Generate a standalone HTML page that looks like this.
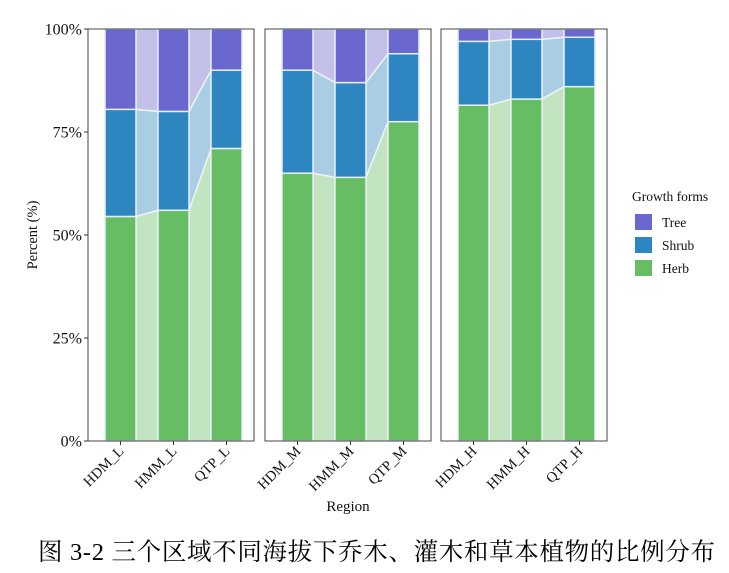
<!DOCTYPE html>
<html><head><meta charset="utf-8"><style>
html,body{margin:0;padding:0;background:#fff;}
svg text{font-family:"Liberation Serif","Noto Serif CJK SC",serif;}
</style></head><body>
<svg id="s" width="729" height="568" xmlns="http://www.w3.org/2000/svg">
</svg>
<script>
const s=document.getElementById('s');
let h='';
const Y=p=>441-4.12*p;
const panels=[
 {x:88,names:['HDM_L','HMM_L','QTP_L'],herb:[54.5,56,71],shrub:[80.5,80,90]},
 {x:265,names:['HDM_M','HMM_M','QTP_M'],herb:[65,64,77.5],shrub:[90,87,94]},
 {x:441,names:['HDM_H','HMM_H','QTP_H'],herb:[81.5,83,86],shrub:[97,97.5,98]}
];
const C={tree:'#6a67ce',treeL:'#c3c1ea',shrub:'#2e86c1',shrubL:'#a9cde3',herb:'#66bd63',herbL:'#c2e4c0'};
const offs=[17,70,123],bw=31;
panels.forEach(P=>{
  const x0=P.x;
  for(let i=0;i<2;i++){
    const a=x0+offs[i]+bw,b=x0+offs[i+1];
    const layers=[[0,P.herb[i],0,P.herb[i+1],C.herbL],[P.herb[i],P.shrub[i],P.herb[i+1],P.shrub[i+1],C.shrubL],[P.shrub[i],100,P.shrub[i+1],100,C.treeL]];
    layers.forEach(l=>{
      h+=`<polygon points="${a},${Y(l[0])} ${a},${Y(l[1])} ${b},${Y(l[3])} ${b},${Y(l[2])}" fill="${l[4]}" stroke="#eef3f7" stroke-width="1.5"/>`;
    });
  }
  for(let i=0;i<3;i++){
    const x=x0+offs[i];
    const L=[[0,P.herb[i],C.herb],[P.herb[i],P.shrub[i],C.shrub],[P.shrub[i],100,C.tree]];
    L.forEach(l=>{h+=`<rect x="${x}" y="${Y(l[1])}" width="${bw}" height="${Y(l[0])-Y(l[1])}" fill="${l[2]}" stroke="#e6eef3" stroke-width="1.5"/>`;});
    const cx=x+bw/2;
    h+=`<line x1="${cx}" y1="441" x2="${cx}" y2="445" stroke="#333" stroke-width="1"/>`;
    h+=`<text transform="translate(${cx+4},452) rotate(-45)" text-anchor="end" font-size="14.5" fill="#111">${P.names[i]}</text>`;
  }
  h+=`<rect x="${x0}" y="29" width="166" height="412" fill="none" stroke="#444" stroke-width="1"/>`;
});
[[0,'0%'],[25,'25%'],[50,'50%'],[75,'75%'],[100,'100%']].forEach(t=>{
  h+=`<line x1="84" y1="${Y(t[0])}" x2="88" y2="${Y(t[0])}" stroke="#333"/>`;
  h+=`<text x="82" y="${Y(t[0])+5.5}" text-anchor="end" font-size="16" fill="#111">${t[1]}</text>`;
});
h+=`<text transform="translate(37,235) rotate(-90)" text-anchor="middle" font-size="14.5" fill="#111">Percent (%)</text>`;
h+=`<text x="348" y="511" text-anchor="middle" font-size="15" fill="#111">Region</text>`;
h+=`<text x="632" y="201" font-size="13.5" fill="#111">Growth forms</text>`;
[['Tree',C.tree,214],['Shrub',C.shrub,237],['Herb',C.herb,260]].forEach(l=>{
  h+=`<rect x="635" y="${l[2]}" width="17" height="16" fill="${l[1]}"/>`;
  h+=`<text x="662" y="${l[2]+13}" font-size="13.5" fill="#111">${l[0]}</text>`;
});
h+=`<text x="38" y="560" font-size="24.5" fill="#000" textLength="677" lengthAdjust="spacing">图 3-2  三个区域不同海拔下乔木、灌木和草本植物的比例分布</text>`;
s.innerHTML=h;
</script>
</body></html>
